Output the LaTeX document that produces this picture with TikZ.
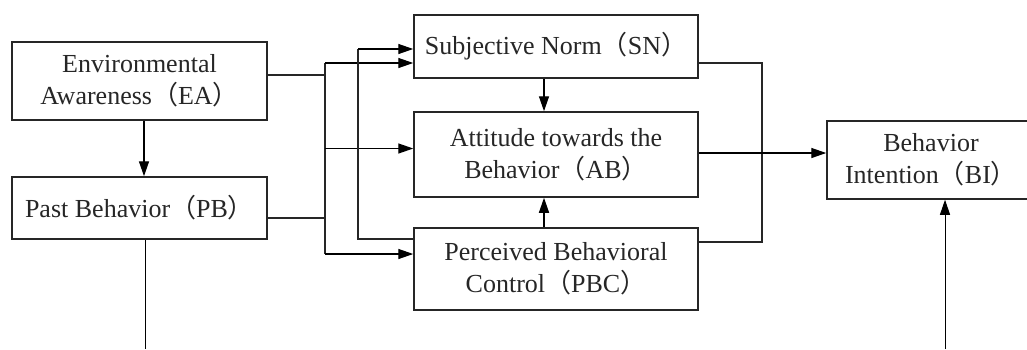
\documentclass[tikz,border=0pt]{standalone}
\usepackage{fontspec}
\setmainfont{Liberation Serif}
\newfontfamily\cjkfont{Noto Sans CJK SC}
\newcommand{\lpar}{{\cjkfont （}}
\newcommand{\rpar}{{\cjkfont ）}}
\usetikzlibrary{arrows.meta,calc}
\begin{document}
\begin{tikzpicture}[x=0.5pt,y=-0.5pt,
  box/.style={draw=black!85,line width=0.75pt,rectangle,inner sep=0pt,align=center,
    font=\fontsize{13pt}{16pt}\selectfont,text=black!85},
  ln/.style={draw=black!85,line width=1pt},
  arr/.style={draw=black,line width=0.7pt,-{Triangle[length=7.5pt,width=5pt]}},
  thinln/.style={draw=black,line width=0.5pt}]
\useasboundingbox (0,0) rectangle (1027,349);
\node[box,minimum width=127.5pt,minimum height=39pt] (EA) at (139.5,81) {Environmental\\Awareness\lpar EA\rpar};
\node[box,minimum width=127.5pt,minimum height=31pt] (PB) at (139.5,208) {Past Behavior\lpar PB\rpar};
\node[box,minimum width=142pt,minimum height=31.5pt] (SN) at (556,46.5) {Subjective Norm\lpar SN\rpar};
\node[box,minimum width=142pt,minimum height=42.5pt] (AB) at (556,154.5) {Attitude towards the\\Behavior\lpar AB\rpar};
\node[box,minimum width=142pt,minimum height=41pt] (PBC) at (556,269) {Perceived Behavioral\\Control\lpar PBC\rpar};
\node[box,minimum width=104pt,minimum height=39pt] (BI) at (931,160) {Behavior\\Intention\lpar BI\rpar};
\coordinate (va) at (325,63);
\coordinate (vb) at (325,254);
\coordinate (vc) at (358,49);
\coordinate (vr1) at (762,63);
\coordinate (vr2) at (762,242);
\coordinate (pbend) at (145,349);
\coordinate (biend) at (945,349);
% EA -> PB
\draw[arr] ($(EA.south)+(4.5,0)$) -- ($(PB.north)+(4.5,0)$);
% left bus
\draw[ln] (va) -- (vb);
\draw[ln] ($(EA.east)+(0,-6)$) -- ($(EA.east -| va)+(0,-6)$);
\draw[ln] ($(PB.east)+(0,10)$) -- ($(PB.east -| va)+(0,10)$);
\draw[arr] (va) -- (va -| SN.west);
\draw[arr] ($(va |- AB.west)+(0,-6)$) -- ($(AB.west)+(0,-6)$);
\draw[arr] (vb) -- (vb -| PBC.west);
% PBC -> SN
\draw[ln] ($(PBC.west)+(0,-30)$) -| (vc);
\draw[arr] (vc) -- (vc -| SN.west);
% SN -> AB, PBC -> AB
\draw[arr] ($(SN.south)+(-12,0)$) -- ($(AB.north)+(-12,0)$);
\draw[arr] ($(PBC.north)+(-12,0)$) -- ($(AB.south)+(-12,0)$);
% right bus
\draw[ln] (SN.east |- vr1) -- (vr1) -- (vr2) -- (PBC.east |- vr2);
\draw[arr] ($(AB.east)+(0,-1.5)$) -- ($(BI.west)+(0,-7)$);
% bottom lines
\draw[thinln] ($(PB.south)+(5.5,0)$) -- (pbend);
\draw[arr,line width=0.5pt] (biend) -- (BI.south -| biend);
\end{tikzpicture}
\end{document}
